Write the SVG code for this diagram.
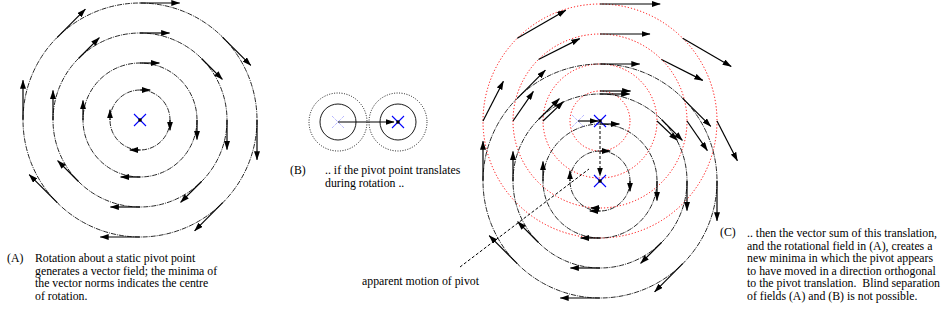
<svg xmlns="http://www.w3.org/2000/svg" width="946" height="322" viewBox="0 0 946 322">
<defs>
<marker id="ah" markerWidth="9" markerHeight="6" refX="8.5" refY="3" orient="auto" markerUnits="userSpaceOnUse"><path d="M0,0 L9,3 L0,6 z" fill="#000"/></marker>
<g id="xmark"><path d="M-6,-6 L6,6 M-6,6 L6,-6" stroke="#0000ff" stroke-width="1.1"/><rect x="-1.6" y="-1.6" width="3.2" height="3.2" fill="#000"/></g>
<g id="xfaded"><path d="M-6,-6 L6,6 M-6,6 L6,-6" stroke="#6a6aff" stroke-width="1" stroke-dasharray="1,1" opacity="0.7"/></g>
</defs>
<style>
text{font-family:"Liberation Serif","Times New Roman",serif;font-size:11.8px;fill:#000}
.dd{fill:none;stroke:#000;stroke-width:0.85;stroke-dasharray:5,1,1,1}
.red{fill:none;stroke:#ff0000;stroke-width:1;stroke-dasharray:1.2,2}
.dot{fill:none;stroke:#000;stroke-width:0.9;stroke-dasharray:1,1.5}
.sol{fill:none;stroke:#000;stroke-width:0.9}
.ar{fill:none;stroke:#000;stroke-width:1.2;marker-end:url(#ah)}
.dash{fill:none;stroke:#000;stroke-width:1;stroke-dasharray:3,2}
</style>
<rect width="946" height="322" fill="#fff"/>

<g id="panelA">
<circle class="dd" cx="140" cy="120" r="30"/>
<circle class="dd" cx="140" cy="120" r="57"/>
<circle class="dd" cx="140" cy="120" r="87"/>
<circle class="dd" cx="140" cy="120" r="117"/>
<use href="#xmark" x="140" y="120"/>
</g>

<g id="panelB">
<circle class="sol" cx="338" cy="122" r="18"/>
<circle class="dot" cx="338" cy="122" r="29"/>
<circle class="sol" cx="398" cy="122" r="18"/>
<circle class="dot" cx="398" cy="122" r="29"/>
<use href="#xfaded" x="338" y="122"/>
<use href="#xmark" x="398" y="122"/>
</g>

<g id="panelC">
<circle class="red" cx="600" cy="121" r="30"/>
<circle class="red" cx="600" cy="121" r="57"/>
<circle class="red" cx="600" cy="121" r="87"/>
<circle class="red" cx="600" cy="121" r="117"/>
<circle class="dd" cx="600" cy="181" r="30"/>
<circle class="dd" cx="600" cy="181" r="57"/>
<circle class="dd" cx="600" cy="181" r="87"/>
<circle class="dd" cx="600" cy="181" r="117"/>
<use href="#xfaded" x="578" y="121"/>
<use href="#xmark" x="600" y="121"/>
<use href="#xmark" x="600" y="181"/>
</g>

<g id="connectors">
<!-- panel A field -->
<path class="ar" d="M140,3 L179.8,3"/>
<path class="ar" d="M222.7,37.3 L250.8,65.4"/>
<path class="ar" d="M257,120 L257,159.8"/>
<path class="ar" d="M222.7,202.7 L194.6,230.8"/>
<path class="ar" d="M140,237 L100.2,237"/>
<path class="ar" d="M57.3,202.7 L29.2,174.6"/>
<path class="ar" d="M23,120 L23,80.2"/>
<path class="ar" d="M57.3,37.3 L85.4,9.2"/>
<path class="ar" d="M140,33 L169.6,33"/>
<path class="ar" d="M201.5,58.5 L222.4,79.4"/>
<path class="ar" d="M227,120 L227,149.6"/>
<path class="ar" d="M201.5,181.5 L180.6,202.4"/>
<path class="ar" d="M140,207 L110.4,207"/>
<path class="ar" d="M78.5,181.5 L57.6,160.6"/>
<path class="ar" d="M53,120 L53,90.4"/>
<path class="ar" d="M78.5,58.5 L99.4,37.6"/>
<path class="ar" d="M140,63 L159.4,63"/>
<path class="ar" d="M197,120 L197,139.4"/>
<path class="ar" d="M140,177 L120.6,177"/>
<path class="ar" d="M83,120 L83,100.6"/>
<path class="ar" d="M140,90 L150.2,90"/>
<path class="ar" d="M170,120 L170,130.2"/>
<path class="ar" d="M140,150 L129.8,150"/>
<path class="ar" d="M110,120 L110,109.8"/>
<!-- panel B translation -->
<path class="ar" d="M338,122 L394,122"/>
<!-- panel C: field on red circles -->
<path class="ar" d="M600,4 L660.2,4"/>
<path class="ar" d="M682.7,38.3 L731.2,66.4"/>
<path class="ar" d="M717,121 L737.4,160.8"/>
<path class="ar" d="M600,238 L580.6,238"/>
<path class="ar" d="M483,121 L503.4,81.2"/>
<path class="ar" d="M517.3,38.3 L565.8,10.2"/>
<path class="ar" d="M600,34 L650,34"/>
<path class="ar" d="M661.5,59.5 L702.8,80.4"/>
<path class="ar" d="M687,121 L707.4,150.6"/>
<path class="ar" d="M600,208 L590.8,208"/>
<path class="ar" d="M513,121 L533.4,91.4"/>
<path class="ar" d="M538.5,59.5 L579.8,38.6"/>
<path class="ar" d="M600,64 L639.8,64"/>
<path class="ar" d="M657,121 L677.4,140.4"/>
<path class="ar" d="M543,121 L563.4,101.6"/>
<path class="ar" d="M600,91 L630.6,91"/>
<path class="ar" d="M600,151 L610.2,151"/>
<!-- panel C: field on black circles -->
<path class="ar" d="M682.7,98.3 L710.8,126.4"/>
<path class="ar" d="M717,181 L717,220.8"/>
<path class="ar" d="M682.7,263.7 L654.6,291.8"/>
<path class="ar" d="M600,298 L560.2,298"/>
<path class="ar" d="M517.3,263.7 L489.2,235.6"/>
<path class="ar" d="M483,181 L483,141.2"/>
<path class="ar" d="M517.3,98.3 L545.4,70.2"/>
<path class="ar" d="M600,94 L629.6,94"/>
<path class="ar" d="M661.5,119.5 L682.4,140.4"/>
<path class="ar" d="M687,181 L687,210.6"/>
<path class="ar" d="M661.5,242.5 L640.6,263.4"/>
<path class="ar" d="M600,268 L570.4,268"/>
<path class="ar" d="M538.5,242.5 L517.6,221.6"/>
<path class="ar" d="M513,181 L513,151.4"/>
<path class="ar" d="M538.5,119.5 L559.4,98.6"/>
<path class="ar" d="M600,124 L619.4,124"/>
<path class="ar" d="M657,181 L657,200.4"/>
<path class="ar" d="M543,181 L543,161.6"/>
<path class="ar" d="M630,181 L630,191.2"/>
<path class="ar" d="M600,211 L589.8,211"/>
<path class="ar" d="M570,181 L570,170.8"/>
<!-- translation in C -->
<path class="ar" d="M578,121 L598,121"/>
<!-- apparent motion -->
<path class="dash" d="M600,126 L600,176" marker-end="url(#ah)"/>
<path class="dash" d="M460,267 L589,169"/>
</g>

<g id="captionA">
<text x="7" y="262">(A)</text>
<text y="262"><tspan x="35">Rotation about a static pivot point</tspan><tspan x="35" dy="12.5">generates a vector field; the minima of</tspan><tspan x="35" dy="12.5">the vector norms indicates the centre</tspan><tspan x="35" dy="12.5">of rotation.</tspan></text>
</g>
<g id="captionB">
<text x="290" y="174">(B)</text>
<text y="174"><tspan x="325">.. if the pivot point translates</tspan><tspan x="325" dy="13">during rotation ..</tspan></text>
</g>
<g id="labelPivot">
<text x="362" y="285">apparent motion of pivot</text>
</g>
<g id="captionC">
<text x="720" y="236">(C)</text>
<text y="237"><tspan x="747">.. then the vector sum of this translation,</tspan><tspan x="747" dy="12.5">and the rotational field in (A), creates a</tspan><tspan x="747" dy="12.5">new minima in which the pivot appears</tspan><tspan x="747" dy="12.5">to have moved in a direction orthogonal</tspan><tspan x="747" dy="12.5">to the pivot translation.&#160; Blind separation</tspan><tspan x="747" dy="12.5">of fields (A) and (B) is not possible.</tspan></text>
</g>
</svg>
